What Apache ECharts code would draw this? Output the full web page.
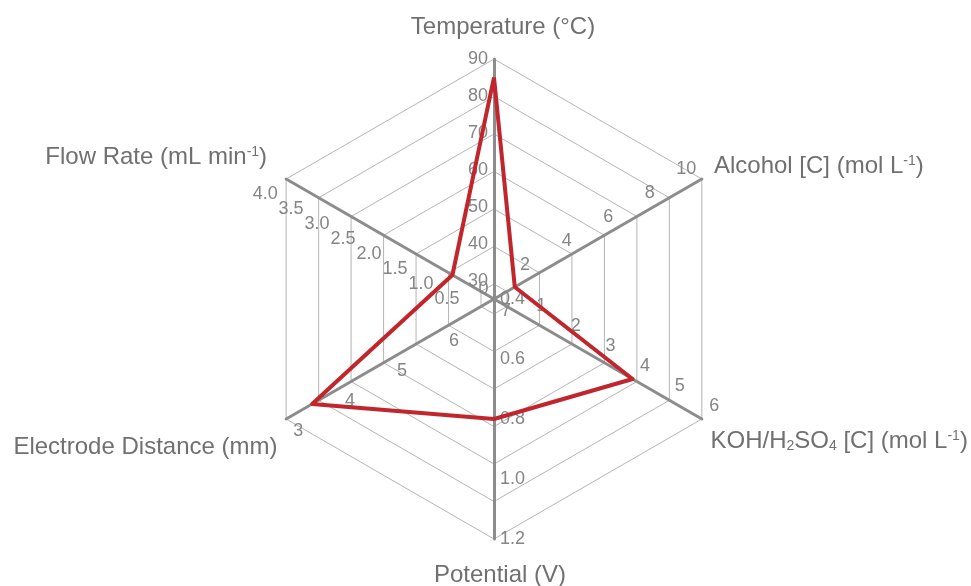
<!DOCTYPE html>
<html>
<head>
<meta charset="utf-8">
<script src="https://cdn.jsdelivr.net/npm/echarts@6/dist/echarts.min.js"></script>
<style>
  html, body { margin: 0; padding: 0; background: #ffffff; }
  #chart { width: 971px; height: 586px; }
</style>
</head>
<body>
<div id="chart"></div>
<script>
// Operating parameters, listed counter-clockwise starting at the top axis.
const axisKeys      = ['temp', 'flow', 'gap', 'potential', 'electrolyte', 'alcohol'];
const axisFrom      = [25, 0, 7, 0.4, 0, 0];      // value at the centre
const axisTo        = [90, 4, 3, 1.2, 6, 10];     // value at the outer vertex
const axisSteps     = [13, 8, 4, 4, 6, 5];        // number of tick intervals
const axisLabelStep = [10, 0.5, 1, 0.2, 1, 2];    // only multiples of this are labelled
const axisDigits    = [0, 1, 0, 1, 0, 0];         // decimals on tick labels
const axisShowCentreLabel = [false, false, true, true, false, true];

// Optimised conditions
const optimumValues = [85, 0.8, 3.5, 0.8, 4, 1];

// Axis titles (rich-text segments: t = normal, sup = superscript, sub = subscript)
const axisTitles = [
  '{t|Temperature (°C)}',
  '{t|Flow Rate (mL min}{sup|-1}{t|)}',
  '{t|Electrode Distance (mm)}',
  '{t|Potential (V)}',
  '{t|KOH/H}{sub|2}{t|SO}{sub|4}{t| [C] (mol L}{sup|-1}{t|)}',
  '{t|Alcohol [C] (mol L}{sup|-1}{t|)}'
];

// An axis whose values fall outward is drawn on a negated scale.
const reversed = axisFrom.map((f, i) => f > axisTo[i]);
const toScale = (v, i) => (reversed[i] ? -v : v);

const CENTER = [494, 299];
const RADIUS = 240;
const AXIS_GREY = '#8c8c8c';
const TEXT_GREY = '#858585';
const FONT = 'Liberation Sans, Arial, sans-serif';

// Title and tick-label placement per axis
const axisLayout = {
  temp:        { gap: 20, padding: [0, 0, 0, 18],  margin: 6 },
  flow:        { gap: 22, padding: [0, 0, 22, 0],  margin: 17 },
  gap:         { gap: 10, padding: [46, 0, 0, 0],  margin: 14 },
  potential:   { gap: 24, padding: [0, 0, 0, 12],  margin: 6 },
  electrolyte: { gap: 10, padding: [34, 0, 0, 0],  margin: 15 },
  alcohol:     { gap: 14, padding: [0, 0, 12, 0],  margin: 11 }
};

const richText = {
  t:   { fontFamily: FONT, fontSize: 24, color: '#707070' },
  sup: { fontFamily: FONT, fontSize: 14, color: '#707070', verticalAlign: 'top', padding: [0, 0, 9, 0] },
  sub: { fontFamily: FONT, fontSize: 14, color: '#707070', verticalAlign: 'bottom', padding: [9, 0, 0, 0] }
};

const hidden = { show: false };

// Hexagonal web of rings
const webRadar = {
  center: CENTER,
  radius: [15, RADIUS],
  startAngle: 90,
  splitNumber: 6,
  shape: 'polygon',
  indicator: axisKeys.map(() => ({ name: '', min: 0, max: 6 })),
  axisName: hidden,
  axisLine: hidden,
  axisTick: hidden,
  axisLabel: hidden,
  splitArea: hidden,
  splitLine: { show: true, lineStyle: { color: '#b5b5b5', width: 1 } },
  silent: true
};

// Coordinate system carrying the data polygon
const dataRadar = {
  center: CENTER,
  radius: RADIUS,
  startAngle: 90,
  shape: 'polygon',
  indicator: axisKeys.map((k, i) => ({
    name: '',
    min: Math.min(toScale(axisFrom[i], i), toScale(axisTo[i], i)),
    max: Math.max(toScale(axisFrom[i], i), toScale(axisTo[i], i))
  })),
  axisName: hidden,
  axisLine: hidden,
  axisTick: hidden,
  axisLabel: hidden,
  splitLine: hidden,
  splitArea: hidden
};

function tickText(v, i) {
  const real = reversed[i] ? -v : v;
  const q = real / axisLabelStep[i];
  if (Math.abs(q - Math.round(q)) > 1e-6) return '';
  return real.toFixed(axisDigits[i]);
}

// One single-axis radar per parameter, each with its own tick spacing
const axisRadars = axisKeys.map((k, i) => ({
  center: CENTER,
  radius: RADIUS,
  startAngle: 90 + 60 * i,
  splitNumber: axisSteps[i],
  shape: 'polygon',
  indicator: [{
    name: axisTitles[i],
    min: toScale(axisFrom[i], i),
    max: toScale(axisTo[i], i)
  }],
  nameGap: axisLayout[k].gap,
  axisName: {
    show: true,
    formatter: (name) => name,
    padding: axisLayout[k].padding,
    rich: richText
  },
  axisLine: { show: true, lineStyle: { color: AXIS_GREY, width: 3 } },
  axisTick: hidden,
  axisLabel: {
    show: true,
    showMinLabel: axisShowCentreLabel[i],
    color: TEXT_GREY,
    fontSize: 18,
    fontFamily: FONT,
    margin: axisLayout[k].margin,
    formatter: (v) => tickText(v, i)
  },
  splitLine: hidden,
  splitArea: hidden
}));

const chart = echarts.init(document.getElementById('chart'), null, { renderer: 'canvas' });
chart.setOption({
  backgroundColor: '#ffffff',
  animation: false,
  radar: [webRadar, dataRadar].concat(axisRadars),
  series: [{
    type: 'radar',
    radarIndex: 1,
    symbol: 'none',
    z: 10,
    lineStyle: { color: '#c1262c', width: 4 },
    data: [{ value: optimumValues.map((v, i) => toScale(v, i)), name: 'Optimum' }]
  }]
});
</script>
</body>
</html>
